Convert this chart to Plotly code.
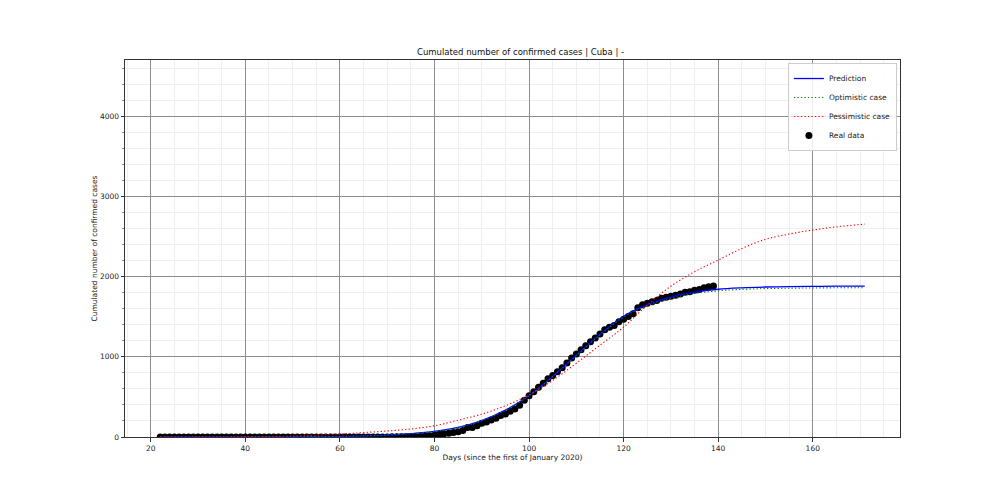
import plotly.graph_objects as go

# Real data (days since 1 Jan 2020, cumulated confirmed cases)
real_days = list(range(22, 140))
real_cases = [0] * 49 + [
    3, 4, 4, 4, 4, 5, 7, 11, 16, 21,
    35, 40, 48, 57, 67, 80, 119, 119, 139, 170,
    186, 212, 233, 269, 288, 320, 350, 396, 457, 515,
    564, 620, 669, 726, 766, 814, 862, 923, 986, 1035,
    1087, 1137, 1189, 1235, 1285, 1337, 1369, 1389, 1437, 1467,
    1501, 1537, 1611, 1649, 1668, 1685, 1703, 1729, 1741, 1754,
    1766, 1783, 1804, 1810, 1830, 1840, 1862, 1872, 1881,
]

# Model curves
curve_days = [22, 30, 40, 50, 60, 65, 70, 75, 80, 85, 90, 95, 100, 105, 110,
              115, 120, 125, 130, 135, 140, 145, 150, 155, 160, 165, 171]
prediction = [0, 0, 1, 3, 8, 14, 24, 42, 70, 120, 205, 335, 515, 755, 1020,
              1280, 1505, 1650, 1745, 1805, 1842, 1860, 1870, 1875, 1878, 1880, 1881]
optimistic = [0, 0, 1, 3, 8, 14, 24, 42, 70, 120, 205, 335, 515, 752, 1015,
              1272, 1495, 1638, 1730, 1788, 1822, 1840, 1850, 1855, 1858, 1860, 1861]
pessimistic = [1, 2, 5, 12, 37, 55, 75, 100, 140, 210, 285, 390, 525, 705, 920,
               1145, 1370, 1645, 1880, 2060, 2205, 2350, 2465, 2530, 2580, 2620, 2654]

x_ticks = [20, 40, 60, 80, 100, 120, 140, 160]
y_ticks = [0, 1000, 2000, 3000, 4000]

FONT = "DejaVu Sans"
DOT = "1.3px,2.2px"

fig = go.Figure()
fig.add_trace(go.Scatter(
    x=real_days, y=real_cases, mode="markers", name="Real data",
    marker=dict(color="black", size=7), legendrank=4,
))
fig.add_trace(go.Scatter(
    x=curve_days, y=prediction, mode="lines", name="Prediction",
    line=dict(color="blue", width=1.3, shape="spline"), legendrank=1,
))
fig.add_trace(go.Scatter(
    x=curve_days, y=optimistic, mode="lines", name="Optimistic case",
    line=dict(color="green", width=1.1, dash=DOT, shape="spline"), legendrank=2,
))
fig.add_trace(go.Scatter(
    x=curve_days, y=pessimistic, mode="lines", name="Pessimistic case",
    line=dict(color="red", width=1.1, dash=DOT, shape="spline"), legendrank=3,
))

axis_common = dict(
    showline=True, linecolor="#333333", linewidth=1, mirror=True,
    ticks="outside", ticklen=3.5, tickcolor="#333333",
    showgrid=True, gridcolor="#8c8c8c", gridwidth=1,
    zeroline=False,
    tickfont=dict(family=FONT, size=7.5, color="#222222"),
)

fig.update_layout(
    width=1000, height=500,
    paper_bgcolor="white", plot_bgcolor="white",
    margin=dict(l=117, r=108, t=52, b=71),
    title=dict(text="Cumulated number of confirmed cases | Cuba | -",
               x=0.5125, xanchor="center", y=0.907, yanchor="bottom",
               font=dict(family=FONT, size=8.5, color="#111111")),
    xaxis=dict(
        range=[14.55, 178.45], tickvals=x_ticks,
        title=dict(text="Days (since the first of January 2020)", standoff=1,
                   font=dict(family=FONT, size=7.5, color="#222222")),
        minor=dict(dtick=5, tick0=0, showgrid=True, gridcolor="#efefef",
                   ticks="", ticklen=0),
        **axis_common,
    ),
    yaxis=dict(
        range=[0, 4700], tickvals=y_ticks,
        title=dict(text="Cumulated number of confirmed cases", standoff=1,
                   font=dict(family=FONT, size=7.5, color="#222222")),
        minor=dict(dtick=200, tick0=0, showgrid=True, gridcolor="#efefef",
                   ticks="outside", ticklen=2, tickcolor="#888888"),
        **axis_common,
    ),
    legend=dict(
        x=0.996, y=0.992, xanchor="right", yanchor="top",
        bgcolor="rgba(255,255,255,0.85)", bordercolor="#cccccc", borderwidth=1,
        font=dict(family=FONT, size=7.5, color="#222222"),
        tracegroupgap=0, itemwidth=30,
    ),
    showlegend=True,
)

fig.write_html("out.html")
